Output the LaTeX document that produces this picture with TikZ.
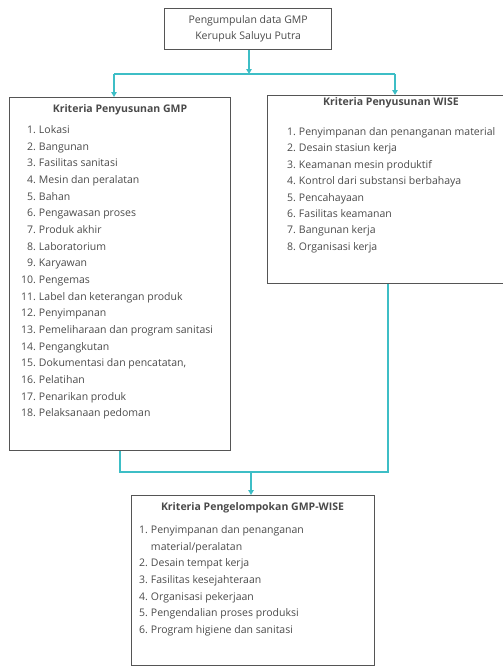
\documentclass[tikz,border=0pt]{standalone}
\usepackage{fontspec}
\setmainfont{Open Sans}
\usetikzlibrary{arrows.meta}
\definecolor{teal1}{HTML}{3DBEC6}
\definecolor{boxc}{HTML}{555555}
\definecolor{txt}{HTML}{4A4A4A}
\begin{document}
\begin{tikzpicture}[x=1pt,y=-1pt,
 box/.style={draw=boxc, line width=1.3pt, rectangle, inner sep=0pt, anchor=north west},
 link/.style={draw=teal1, line width=1.6pt},
 arr/.style={link, -{Triangle[length=5pt,width=5.5pt]}},
 ttl/.style={font=\fontsize{10.5}{12}\selectfont\bfseries, text=txt, inner sep=0pt},
 lst/.style={font=\fontsize{10.5}{16.67}\selectfont, text=txt, inner sep=0pt, anchor=base west, align=left}]
\useasboundingbox (0,0) rectangle (503,667);
\clip (0,0) rectangle (503,667);
% boxes
\node[box, minimum width=167pt, minimum height=41pt] (top) at (164,8) {};
\node[box, minimum width=221pt, minimum height=353pt] (gmp) at (9,97) {};
\node[box, minimum width=250pt, minimum height=188pt] (wise) at (267,95) {};
\node[box, minimum width=243pt, minimum height=170pt] (comb) at (131,495) {};
% texts
\node[font=\fontsize{10.5}{16}\selectfont, text=txt, align=center, inner sep=0pt] (toptxt) at (top.center) {Pengumpulan data GMP\\Kerupuk Saluyu Putra};
\node[ttl] (gmpt) at (120,110) {Kriteria Penyusunan GMP};
\node[ttl] (wiset) at (391,103) {Kriteria Penyusunan WISE};
\node[ttl] (combt) at (252.5,508) {Kriteria Pengelompokan GMP-WISE};
\node[lst] (gmpl) at (21,133.5) {\begin{tabular}[t]{@{}r@{\hspace{3pt}}l@{}}
1.&Lokasi\\
2.&Bangunan\\
3.&Fasilitas sanitasi\\
4.&Mesin dan peralatan\\
5.&Bahan\\
6.&Pengawasan proses\\
7.&Produk akhir\\
8.&Laboratorium\\
9.&Karyawan\\
10.&Pengemas\\
11.&Label dan keterangan produk\\
12.&Penyimpanan\\
13.&Pemeliharaan dan program sanitasi\\
14.&Pengangkutan\\
15.&Dokumentasi dan pencatatan,\\
16.&Pelatihan\\
17.&Penarikan produk\\
18.&Pelaksanaan pedoman
\end{tabular}};
\node[lst, font=\fontsize{10.5}{16.4}\selectfont] (wisel) at (287,135.5) {\begin{tabular}[t]{@{}r@{\hspace{3pt}}l@{}}
1.&Penyimpanan dan penanganan material\\
2.&Desain stasiun kerja\\
3.&Keamanan mesin produktif\\
4.&Kontrol dari substansi berbahaya\\
5.&Pencahayaan\\
6.&Fasilitas keamanan\\
7.&Bangunan kerja\\
8.&Organisasi kerja
\end{tabular}};
\node[lst] (combl) at (139,533.5) {\begin{tabular}[t]{@{}r@{\hspace{3pt}}l@{}}
1.&Penyimpanan dan penanganan\\
&material/peralatan\\
2.&Desain tempat kerja\\
3.&Fasilitas kesejahteraan\\
4.&Organisasi pekerjaan\\
5.&Pengendalian proses produksi\\
6.&Program higiene dan sanitasi
\end{tabular}};
% connectors
\coordinate (j1) at (249,74);
\coordinate (jl) at (114,74);
\coordinate (jr) at (395,74);
\coordinate (bl) at (120,472);
\coordinate (br) at (388,472);
\coordinate (bm) at (251,472);
\draw[arr] (j1 |- top.south) -- (j1);
\draw[link] (jl) -- (jr);
\draw[arr] (jl) -- (jl |- gmp.north);
\draw[arr] (jr) -- (jr |- wise.north);
\draw[link] (bl |- gmp.south) -- (bl) -- (br) -- (br |- wise.south);
\draw[arr] (bm) -- (bm |- comb.north);
\end{tikzpicture}
\end{document}
